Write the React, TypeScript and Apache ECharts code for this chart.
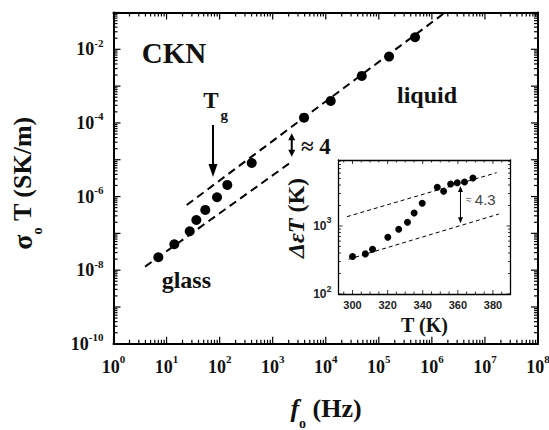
import React, { useEffect, useRef } from 'react';
import * as echarts from 'echarts';

// ---- main plot data (f0 in Hz, sigma0*T in SK/m) ----
const freqHz = [7.0, 14.0, 27.3, 36.4, 53.7, 89.3, 139.6, 402.7, 3899, 12416, 47750, 156000, 482000];
const sigmaT = [2.24e-8, 5.06e-8, 1.14e-7, 2.31e-7, 4.33e-7, 9.57e-7, 2.07e-6, 8.18e-6, 1.39e-4, 3.96e-4, 1.89e-3, 6.34e-3, 2.13e-2];

// dashed guide lines (end points)
const upperFitF = [24.0, 1.774e6];
const upperFitS = [5.9e-7, 0.1];
const lowerFitF = [3.93, 2286];
const lowerFitS = [1.245e-8, 8.87e-6];

// arrows: [x, yTop, yBottom, kind]
const tgArrow = [75, 8.8e-5, 3.4e-6, 0];
const gapArrow = [2286, 5.25e-5, 1.21e-5, 1];

// ---- inset data (T in K, Delta eps * T in K) ----
const tempK = [300.0, 307.3, 311.4, 320.1, 326.3, 331.3, 335.1, 339.7, 348.3, 351.9, 355.9, 359.7, 363.8, 368.6];
const deltaEpsT = [355, 389, 454, 682, 894, 1137, 1552, 2159, 3707, 3236, 4150, 4316, 4436, 5080];
const insetUpperT = [296.8, 382.1];
const insetUpperD = [1371, 6081];
const insetLowerT = [297.7, 383.4];
const insetLowerD = [324, 1500];
const insetArrow = [361.5, 3873, 1097, 2];

// axis ranges
const X_MIN = 1, X_MAX = 1e8;
const Y_MIN = 1e-10, Y_MAX = 0.1;
const IX_MIN = 292, IX_MAX = 390;
const IY_MIN = 100, IY_MAX = 9340;

const SERIF = 'Liberation Serif';
const SANS = 'Liberation Sans';
const INK = '#111';

function logTickValues(minExp: number, maxExp: number, maxVal: number) {
  const out: [number, number][] = [];
  for (let e = minExp; e <= maxExp; e++) {
    const base = Math.pow(10, e);
    if (base <= maxVal * 1.0000001) out.push([base, 1]);
    for (let k = 2; k <= 9; k++) {
      const v = k * base;
      if (v < maxVal * 0.9999999) out.push([v, 0]);
    }
  }
  return out;
}

function buildTicks(xt: [number, number][], yt: [number, number][], xmin: number, xmax: number, ymin: number, ymax: number) {
  const d: number[][] = [];
  xt.forEach(([v, m]) => {
    d.push([v, ymin, 0, m]);
    d.push([v, ymax, 1, m]);
  });
  yt.forEach(([v, m]) => {
    d.push([xmin, v, 2, m]);
    d.push([xmax, v, 3, m]);
  });
  return d;
}

const isPow10 = (v: number) => {
  const l = Math.log10(v);
  return Math.abs(l - Math.round(l)) < 1e-6;
};

export default function App() {
  const ref = useRef<HTMLDivElement>(null);
  useEffect(() => {
    document.body.style.margin = '0';
    if (!ref.current) return;
    const chart = echarts.init(ref.current, undefined, { renderer: 'svg' });

    const mainXTicks = logTickValues(0, 8, X_MAX);
    const mainYTicks = logTickValues(-10, -1, Y_MAX);
    const mainTicks = buildTicks(mainXTicks, mainYTicks, X_MIN, X_MAX, Y_MIN, Y_MAX);

    const inXTicks: [number, number][] = [];
    for (let t = 295; t < IX_MAX; t += 5) inXTicks.push([t, t % 20 === 0 ? 1 : 0]);
    const inYTicks = logTickValues(2, 3, IY_MAX);
    const insetTicks = buildTicks(inXTicks, inYTicks, IX_MIN, IX_MAX, IY_MIN, IY_MAX);

    const tickRender = (majorLen: number, minorLen: number, lw: number) => (params: any, api: any) => {
      const p = api.coord([api.value(0), api.value(1)]);
      const side = api.value(2);
      const L = api.value(3) ? majorLen : minorLen;
      let x2 = p[0], y2 = p[1];
      if (side === 0) y2 -= L;
      else if (side === 1) y2 += L;
      else if (side === 2) x2 += L;
      else x2 -= L;
      return {
        type: 'line',
        shape: { x1: p[0], y1: p[1], x2, y2 },
        style: { stroke: '#000', lineWidth: lw },
      };
    };

    const arrowRender = (params: any, api: any) => {
      const x = api.value(0);
      const kind = api.value(3);
      const a = api.coord([x, api.value(1)]);
      const b = api.coord([x, api.value(2)]);
      const cfg =
        kind === 0 ? { w: 4.5, h: 13, lw: 2, dbl: false } :
        kind === 1 ? { w: 3.5, h: 7, lw: 2, dbl: true } :
        { w: 2.5, h: 6, lw: 1, dbl: true };
      const children: any[] = [];
      const top = cfg.dbl ? a[1] + cfg.h - 1 : a[1];
      children.push({
        type: 'line',
        shape: { x1: a[0], y1: top, x2: b[0], y2: b[1] - cfg.h + 1 },
        style: { stroke: '#000', lineWidth: cfg.lw },
      });
      children.push({
        type: 'polygon',
        shape: { points: [[b[0] - cfg.w, b[1] - cfg.h], [b[0] + cfg.w, b[1] - cfg.h], [b[0], b[1]]] },
        style: { fill: '#000' },
      });
      if (cfg.dbl) {
        children.push({
          type: 'polygon',
          shape: { points: [[a[0] - cfg.w, a[1] + cfg.h], [a[0] + cfg.w, a[1] + cfg.h], [a[0], a[1]]] },
          style: { fill: '#000' },
        });
      }
      return { type: 'group', children };
    };

    const mainRich = (big: number, small: number, lh: number) => ({
      b: { fontFamily: SERIF, fontWeight: 'bold', fontSize: big, lineHeight: lh, color: INK },
      s: { fontFamily: SERIF, fontWeight: 'bold', fontSize: small, lineHeight: small, verticalAlign: 'top', color: INK },
    });

    const mainLine = { show: true, lineStyle: { color: '#000', width: 2 } };
    const insetLine = { show: true, lineStyle: { color: '#000', width: 1.3 } };

    const option: any = {
      animation: false,
      backgroundColor: '#fff',
      textStyle: { fontFamily: SERIF },
      grid: [
        { left: 113.5, right: 11, top: 12.5, bottom: 86.2, containLabel: false, outerBoundsMode: 'none' },
        {
          left: 338.5, right: 38.5, top: 160, bottom: 136, containLabel: false, outerBoundsMode: 'none',
          show: true, backgroundColor: '#fff', borderWidth: 0,
        },
      ],
      xAxis: [
        {
          type: 'log', gridIndex: 0, position: 'bottom', min: X_MIN, max: X_MAX, logBase: 10,
          axisLine: mainLine, axisTick: { show: false }, splitLine: { show: false },
          axisLabel: {
            show: true, margin: 10, showMinLabel: true, showMaxLabel: true,
            fontFamily: SERIF,
            formatter: (v: number) => (isPow10(v) ? `{b|10}{s|${Math.round(Math.log10(v))}}` : ''),
            rich: mainRich(18, 11, 27),
          },
        },
        {
          type: 'log', gridIndex: 0, position: 'top', min: X_MIN, max: X_MAX, logBase: 10,
          axisLine: mainLine, axisTick: { show: false }, splitLine: { show: false }, axisLabel: { show: false },
        },
        {
          type: 'value', gridIndex: 1, position: 'bottom', min: IX_MIN, max: IX_MAX,
          axisLine: insetLine, axisTick: { show: false }, splitLine: { show: false },
          axisLabel: {
            show: true, margin: 5, showMinLabel: true, showMaxLabel: true,
            formatter: (v: number) => (Math.abs(v % 20) < 1e-6 ? String(v) : ''),
            fontFamily: SANS, fontWeight: 'bold', fontSize: 11, color: '#222',
          },
        },
        {
          type: 'value', gridIndex: 1, position: 'top', min: IX_MIN, max: IX_MAX,
          axisLine: insetLine, axisTick: { show: false }, splitLine: { show: false }, axisLabel: { show: false },
        },
      ],
      yAxis: [
        {
          type: 'log', gridIndex: 0, position: 'left', min: Y_MIN, max: Y_MAX, logBase: 10,
          axisLine: mainLine, axisTick: { show: false }, splitLine: { show: false },
          axisLabel: {
            show: true, margin: 10, showMinLabel: true, showMaxLabel: true,
            fontFamily: SERIF,
            formatter: (v: number) => {
              if (!isPow10(v)) return '';
              const e = Math.round(Math.log10(v));
              return e % 2 === 0 ? `{b|10}{s|${e}}` : '';
            },
            rich: mainRich(18, 11, 24),
          },
        },
        {
          type: 'log', gridIndex: 0, position: 'right', min: Y_MIN, max: Y_MAX, logBase: 10,
          axisLine: mainLine, axisTick: { show: false }, splitLine: { show: false }, axisLabel: { show: false },
        },
        {
          type: 'log', gridIndex: 1, position: 'left', min: IY_MIN, max: IY_MAX, logBase: 10,
          axisLine: insetLine, axisTick: { show: false }, splitLine: { show: false },
          axisLabel: {
            show: true, margin: 7, showMinLabel: true, showMaxLabel: true,
            fontFamily: SANS,
            formatter: (v: number) => (isPow10(v) ? `{b|10}{s|${Math.round(Math.log10(v))}}` : ''),
            rich: {
              b: { fontFamily: SANS, fontWeight: 'bold', fontSize: 12, lineHeight: 20, color: '#222' },
              s: { fontFamily: SANS, fontWeight: 'bold', fontSize: 9, lineHeight: 9, verticalAlign: 'top', color: '#222' },
            },
          },
        },
        {
          type: 'log', gridIndex: 1, position: 'right', min: IY_MIN, max: IY_MAX, logBase: 10,
          axisLine: insetLine, axisTick: { show: false }, splitLine: { show: false }, axisLabel: { show: false },
        },
      ],
      series: [
        {
          type: 'custom', name: 'mainTicks', xAxisIndex: 0, yAxisIndex: 0, clip: false, silent: true, z: 5,
          renderItem: tickRender(7, 4, 1.2), data: mainTicks,
        },
        {
          type: 'line', xAxisIndex: 0, yAxisIndex: 0, showSymbol: false, symbol: 'none', silent: true,
          data: upperFitF.map((f, i) => [f, upperFitS[i]]),
          lineStyle: { color: '#000', width: 2, type: [8, 5], opacity: 1 },
        },
        {
          type: 'line', xAxisIndex: 0, yAxisIndex: 0, showSymbol: false, symbol: 'none', silent: true,
          data: lowerFitF.map((f, i) => [f, lowerFitS[i]]),
          lineStyle: { color: '#000', width: 2, type: [8, 5], opacity: 1 },
        },
        {
          type: 'scatter', xAxisIndex: 0, yAxisIndex: 0, symbol: 'circle', symbolSize: 10,
          itemStyle: { color: '#000', opacity: 1 }, data: freqHz.map((f, i) => [f, sigmaT[i]]), z: 4,
        },
        {
          type: 'custom', name: 'mainArrows', xAxisIndex: 0, yAxisIndex: 0, clip: false, silent: true, z: 6,
          renderItem: arrowRender, data: [tgArrow, gapArrow],
        },
        {
          type: 'custom', name: 'insetTicks', xAxisIndex: 2, yAxisIndex: 2, clip: false, silent: true, z: 5,
          renderItem: tickRender(4, 2.5, 0.8), data: insetTicks,
        },
        {
          type: 'line', xAxisIndex: 2, yAxisIndex: 2, showSymbol: false, symbol: 'none', silent: true,
          data: insetUpperT.map((t, i) => [t, insetUpperD[i]]),
          lineStyle: { color: '#000', width: 1, type: [4, 3], opacity: 1 },
        },
        {
          type: 'line', xAxisIndex: 2, yAxisIndex: 2, showSymbol: false, symbol: 'none', silent: true,
          data: insetLowerT.map((t, i) => [t, insetLowerD[i]]),
          lineStyle: { color: '#000', width: 1, type: [4, 3], opacity: 1 },
        },
        {
          type: 'scatter', xAxisIndex: 2, yAxisIndex: 2, symbol: 'circle', symbolSize: 7,
          itemStyle: { color: '#000', opacity: 1 }, data: tempK.map((t, i) => [t, deltaEpsT[i]]), z: 4,
        },
        {
          type: 'custom', name: 'insetArrow', xAxisIndex: 2, yAxisIndex: 2, clip: false, silent: true, z: 6,
          renderItem: arrowRender, data: [insetArrow],
        },
      ],
      graphic: [
        {
          type: 'text', x: 141.8, y: 53.3,
          style: { text: 'CKN', fontFamily: SERIF, fontWeight: 'bold', fontSize: 29, fill: INK, align: 'left', verticalAlign: 'middle' },
        },
        {
          type: 'text', x: 203.3, y: 100.5,
          style: { text: 'T', fontFamily: SERIF, fontWeight: 'bold', fontSize: 23, fill: INK, align: 'left', verticalAlign: 'middle' },
        },
        {
          type: 'text', x: 220.5, y: 115.3,
          style: { text: 'g', fontFamily: SERIF, fontWeight: 'bold', fontSize: 15, fill: INK, align: 'left', verticalAlign: 'middle' },
        },
        {
          type: 'text', x: 397, y: 95,
          style: { text: 'liquid', fontFamily: SERIF, fontWeight: 'bold', fontSize: 24, fill: INK, align: 'left', verticalAlign: 'middle' },
        },
        {
          type: 'text', x: 161.7, y: 280,
          style: { text: 'glass', fontFamily: SERIF, fontWeight: 'bold', fontSize: 24, fill: INK, align: 'left', verticalAlign: 'middle' },
        },
        {
          type: 'text', x: 301, y: 146.5,
          style: { text: '≈ 4', fontFamily: SERIF, fontWeight: 'bold', fontSize: 23, fill: INK, align: 'left', verticalAlign: 'middle' },
        },
        {
          type: 'text', x: 466, y: 199, z: 10,
          style: {
            text: '{a|≈} {b|4.3}', align: 'left', verticalAlign: 'middle',
            rich: {
              a: { fontFamily: SANS, fontSize: 10, fill: '#555' },
              b: { fontFamily: SANS, fontSize: 15, fill: '#444' },
            },
          },
        },
        {
          type: 'text', x: 22, y: 183, rotation: Math.PI / 2,
          style: {
            text: '{g|σ}{o|o}{n| T (SK/m)}', align: 'center', verticalAlign: 'middle',
            rich: {
              g: { fontFamily: SERIF, fontWeight: 'bold', fontSize: 28, lineHeight: 44, fill: INK },
              o: { fontFamily: SERIF, fontWeight: 'bold', fontSize: 14, lineHeight: 14, verticalAlign: 'bottom', fill: INK },
              n: { fontFamily: SERIF, fontWeight: 'bold', fontSize: 26, lineHeight: 44, fill: INK },
            },
          },
        },
        {
          type: 'text', x: 326, y: 408,
          style: {
            text: '{f|f}{o|o}{n| (Hz)}', align: 'center', verticalAlign: 'middle',
            rich: {
              f: { fontFamily: SERIF, fontWeight: 'bold', fontStyle: 'italic', fontSize: 26, lineHeight: 44, fill: INK },
              o: { fontFamily: SERIF, fontWeight: 'bold', fontSize: 14, lineHeight: 14, verticalAlign: 'bottom', fill: INK },
              n: { fontFamily: SERIF, fontWeight: 'bold', fontSize: 26, lineHeight: 44, fill: INK },
            },
          },
        },
        {
          type: 'text', x: 296, y: 218, rotation: Math.PI / 2,
          style: {
            text: '{i|ΔεT}{n| (K)}', align: 'center', verticalAlign: 'middle',
            rich: {
              i: { fontFamily: SERIF, fontWeight: 'bold', fontStyle: 'italic', fontSize: 24, fill: INK },
              n: { fontFamily: SERIF, fontWeight: 'bold', fontSize: 24, fill: INK },
            },
          },
        },
        {
          type: 'text', x: 424.5, y: 325,
          style: { text: 'T (K)', fontFamily: SERIF, fontWeight: 'bold', fontSize: 20, fill: INK, align: 'center', verticalAlign: 'middle' },
        },
      ],
    };

    chart.setOption(option);
    return () => chart.dispose();
  }, []);

  return <div ref={ref} style={{ position: 'fixed', left: 0, top: 0, width: 549, height: 430 }} />;
}
